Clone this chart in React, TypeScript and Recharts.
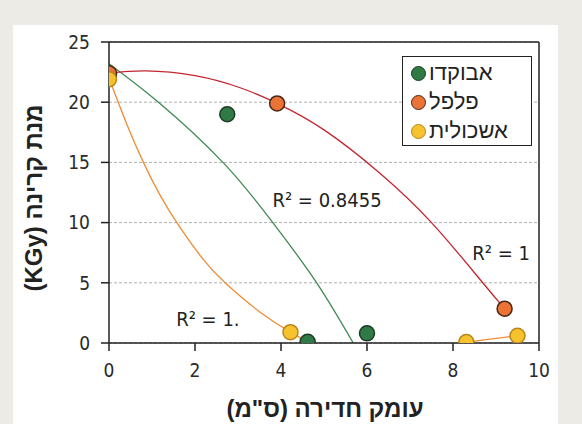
import { ComposedChart, Line, Scatter, XAxis, YAxis, CartesianGrid, ReferenceLine, ReferenceDot } from "recharts"

// axis ticks
const xTicks = [0, 2, 4, 6, 8, 10]
const yTicks = [0, 5, 10, 15, 20, 25]

// series names (legend order)
const seriesNames = ["אבוקדו", "פלפל", "אשכולית"]
const seriesFill = ["#2f7a45", "#ea7335", "#f6c22e"]
const seriesStroke = ["#1d3a24", "#4a2616", "#b8861a"]

// measured points
const avocadoPoints = [
  { x: 0, y: 22.3 },
  { x: 2.75, y: 19 },
  { x: 4.62, y: 0.1 },
  { x: 6, y: 0.8 },
]
const pepperPoints = [
  { x: 0, y: 22.4 },
  { x: 3.91, y: 19.9 },
  { x: 9.2, y: 2.85 },
]
const grapefruitPoints = [
  { x: 0, y: 21.9 },
  { x: 4.22, y: 0.9 },
  { x: 8.31, y: 0.08 },
  { x: 9.5, y: 0.6 },
]

// trendlines
const avocadoTrend = [
  { x: 0, y: 23.2 },
  { x: 1.15, y: 20 },
  { x: 2.65, y: 15 },
  { x: 3.81, y: 10 },
  { x: 4.83, y: 5 },
  { x: 5.68, y: 0 },
]
const pepperTrend = [
  { x: 0, y: 22.4 },
  { x: 0.85, y: 22.6 },
  { x: 2, y: 22.2 },
  { x: 3.05, y: 21.2 },
  { x: 3.91, y: 19.9 },
  { x: 5, y: 17.7 },
  { x: 6.3, y: 14.1 },
  { x: 7.5, y: 10 },
  { x: 8.6, y: 5.4 },
  { x: 9.2, y: 2.85 },
]
const grapefruitTrend = [
  { x: 0, y: 22 },
  { x: 0.4, y: 18.3 },
  { x: 0.8, y: 15 },
  { x: 1.2, y: 12.2 },
  { x: 1.65, y: 9.6 },
  { x: 2.2, y: 6.9 },
  { x: 2.7, y: 5 },
  { x: 3.5, y: 2.6 },
  { x: 4.22, y: 0.9 },
  { x: 4.65, y: 0.05 },
]
const grapefruitTrend2 = [
  { x: 8.31, y: 0.08 },
  { x: 9.5, y: 0.6 },
]

// R² labels
const r2Labels = [
  { x: 5.07, y: 11.85, text: "R² = 0.8455" },
  { x: 9.12, y: 7.47, text: "R² = 1" },
  { x: 2.3, y: 1.99, text: "R² = 1." },
]

const tickFont = "'DejaVu Sans Condensed', 'DejaVu Sans', sans-serif"
const hebFont = "'Liberation Sans', Arial, 'DejaVu Sans', sans-serif"

const rtl = (s: string) => "\u202B" + s + "\u202C"

const makeDot = (fill: string, stroke: string) => (props: any) => (
  <circle cx={props.cx} cy={props.cy} r={7.5} fill={fill} stroke={stroke} strokeWidth={1.5} />
)

export default function App() {
  return (
    <div style={{ position: "absolute", left: 0, top: 0, width: 582, height: 424, background: "#ecebe6", overflow: "hidden" }}>
      <div style={{ position: "absolute", left: 13, top: 25, width: 545, height: 399, background: "#ffffff" }} />
      <div style={{ position: "absolute", left: 0, top: 0 }}>
        <ComposedChart width={582} height={424} margin={{ top: 42, right: 43, bottom: 0, left: 0 }}>
          <CartesianGrid vertical={false} stroke="#b0b0b0" strokeDasharray="3 2" />
          <XAxis
            type="number"
            dataKey="x"
            domain={[0, 10]}
            ticks={xTicks}
            allowDataOverflow
            height={81}
            stroke="#222"
            strokeWidth={1.5}
            tickSize={8}
            tickMargin={13}
            tick={{ fontSize: 19, fill: "#2a2a2a", fontFamily: tickFont, fontStretch: "condensed" }}
          />
          <YAxis
            type="number"
            dataKey="y"
            domain={[0, 25]}
            ticks={yTicks}
            allowDataOverflow
            width={109}
            stroke="#222"
            strokeWidth={1.5}
            tickSize={8}
            tickMargin={11}
            tick={{ fontSize: 19, fill: "#2a2a2a", fontFamily: tickFont, fontStretch: "condensed" }}
          />
          <ReferenceLine y={25} stroke="#222" strokeWidth={1.5} />
          <ReferenceLine x={10} stroke="#222" strokeWidth={1.5} />
          <Line data={avocadoTrend} dataKey="y" type="natural" stroke="#3d8a52" strokeWidth={1.3} dot={false} activeDot={false} isAnimationActive={false} />
          <Line data={pepperTrend} dataKey="y" type="natural" stroke="#c4262f" strokeWidth={1.3} dot={false} activeDot={false} isAnimationActive={false} />
          <Line data={grapefruitTrend} dataKey="y" type="natural" stroke="#ee8d36" strokeWidth={1.3} dot={false} activeDot={false} isAnimationActive={false} />
          <Line data={grapefruitTrend2} dataKey="y" type="linear" stroke="#ee8d36" strokeWidth={1.3} dot={false} activeDot={false} isAnimationActive={false} />
          <Scatter data={avocadoPoints} dataKey="y" shape={makeDot(seriesFill[0], seriesStroke[0])} isAnimationActive={false} />
          <Scatter data={pepperPoints} dataKey="y" shape={makeDot(seriesFill[1], seriesStroke[1])} isAnimationActive={false} />
          <Scatter data={grapefruitPoints} dataKey="y" shape={makeDot(seriesFill[2], seriesStroke[2])} isAnimationActive={false} />
          {r2Labels.map((l) => (
            <ReferenceDot
              key={l.text + l.x}
              x={l.x}
              y={l.y}
              r={0}
              ifOverflow="visible"
              label={{ value: l.text, position: "center", fill: "#222", fontSize: 20, fontFamily: tickFont, fontStretch: "condensed" }}
            />
          ))}
        </ComposedChart>
      </div>

      {/* legend */}
      <div style={{ position: "absolute", left: 402, top: 56, width: 128, height: 88, border: "1.5px solid #222", background: "#fff" }}>
        {seriesNames.map((name, i) => (
          <div key={name} style={{ position: "absolute", left: 8, top: 4 + i * 29, height: 24, display: "flex", alignItems: "center" }}>
            <span style={{ display: "inline-block", width: 13, height: 13, borderRadius: "50%", background: seriesFill[i], border: "1.5px solid " + seriesStroke[i] }} />
            <span style={{ marginLeft: 3, fontFamily: hebFont, fontSize: 22, color: "#222", lineHeight: "24px" }}>{name}</span>
          </div>
        ))}
      </div>

      {/* axis titles */}
      <div style={{ position: "absolute", left: 125, top: 395, width: 400, textAlign: "center", fontFamily: hebFont, fontWeight: "bold", fontSize: 24, color: "#222", lineHeight: "28px" }}>
        {rtl('עומק חדירה (ס"מ)')}
      </div>
      <div style={{ position: "absolute", left: 34 - 110, top: 198 - 14, width: 220, textAlign: "center", transform: "rotate(-90deg)", fontFamily: hebFont, fontWeight: "bold", fontSize: 24, color: "#222", lineHeight: "28px" }}>
        {rtl("מנת קרינה (KGy)")}
      </div>
    </div>
  )
}
